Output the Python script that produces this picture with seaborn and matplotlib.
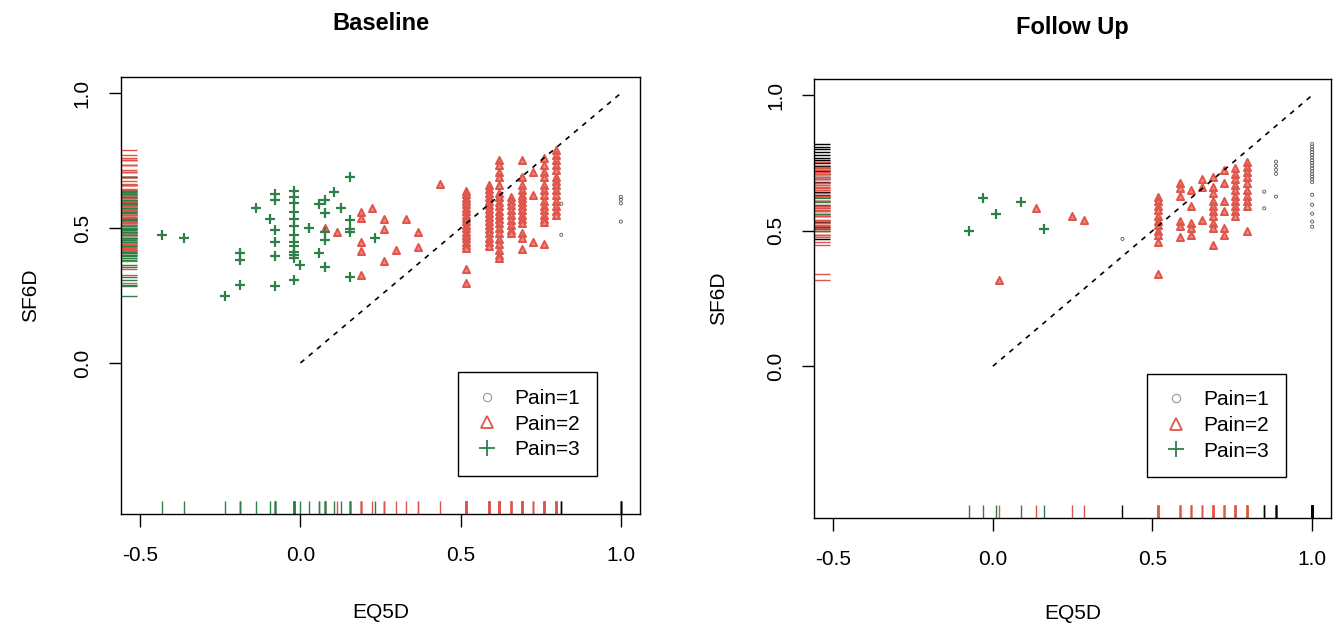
import numpy as np
import pandas as pd
import matplotlib
matplotlib.use("Agg")
import matplotlib.pyplot as plt
from matplotlib.lines import Line2D
import seaborn as sns

# -----------------------------
# Data
# -----------------------------
# Baseline, Pain=1
base_p1_x = [0.516, 0.691, 0.814, 0.814, 1.0, 1.0, 1.0, 1.0]
base_p1_y = [0.51, 0.69, 0.59, 0.475, 0.616, 0.605, 0.592, 0.524]

# Baseline, Pain=2 (single points)
base_p2_x = [0.078, 0.115, 0.188, 0.188, 0.188, 0.188, 0.188, 0.224, 0.26, 0.26, 0.26,
             0.297, 0.33, 0.368, 0.368, 0.434]
base_p2_y = [0.499, 0.487, 0.561, 0.536, 0.45, 0.416, 0.325, 0.576, 0.534, 0.497, 0.379,
             0.42, 0.534, 0.485, 0.428, 0.662]
# Baseline, Pain=2 (columns of points sharing one EQ5D value)
base_p2_col_x = [0.516, 0.587, 0.620, 0.656, 0.691, 0.725, 0.760, 0.796]
base_p2_col_y = [
    [0.637, 0.625, 0.612, 0.6, 0.588, 0.575, 0.562, 0.55, 0.537, 0.525, 0.512, 0.5,
     0.487, 0.475, 0.462, 0.45, 0.437, 0.425, 0.349, 0.296],
    [0.659, 0.645, 0.63, 0.615, 0.6, 0.585, 0.57, 0.555, 0.54, 0.525, 0.51, 0.495,
     0.48, 0.465, 0.45, 0.435],
    [0.752, 0.733, 0.708, 0.69, 0.66, 0.63, 0.616, 0.598, 0.583, 0.565, 0.549, 0.534,
     0.52, 0.5, 0.48, 0.46, 0.44, 0.42, 0.40, 0.389],
    [0.616, 0.6, 0.585, 0.567, 0.55, 0.53, 0.512, 0.493, 0.481],
    [0.752, 0.69, 0.66, 0.64, 0.622, 0.61, 0.598, 0.583, 0.567, 0.549, 0.534, 0.52,
     0.481, 0.462, 0.424],
    [0.708, 0.622, 0.45],
    [0.76, 0.733, 0.708, 0.69, 0.66, 0.64, 0.622, 0.6, 0.583, 0.567, 0.549, 0.534,
     0.524, 0.44],
    [0.789, 0.77, 0.752, 0.733, 0.715, 0.69, 0.675, 0.66, 0.64, 0.622, 0.6, 0.583,
     0.565, 0.549],
]

# Baseline, Pain=3
base_p3_x = [-0.432, -0.365, -0.236, -0.19, -0.19, -0.19, -0.14, -0.094, -0.078, -0.078,
             -0.078, -0.078, -0.078, -0.078, 0.0, 0.026, 0.057, 0.057, 0.078, 0.078,
             0.078, 0.078, 0.078, 0.104, 0.125, 0.156, 0.156, 0.156, 0.156, 0.156, 0.234]
base_p3_y = [0.475, 0.462, 0.25, 0.407, 0.38, 0.288, 0.576, 0.534, 0.628, 0.604,
             0.493, 0.45, 0.398, 0.284, 0.364, 0.502, 0.588, 0.407, 0.604, 0.555,
             0.487, 0.456, 0.354, 0.632, 0.576, 0.69, 0.53, 0.495, 0.485, 0.318, 0.465]
base_p3_col_x = [-0.02]
base_p3_col_y = [[0.637, 0.616, 0.592, 0.561, 0.534, 0.506, 0.475, 0.45, 0.432, 0.413,
                  0.399, 0.389, 0.309]]

# Follow up, Pain=1
fu_p1_x = [0.406, 0.85, 0.85, 0.887, 0.887, 0.887, 0.887, 0.887]
fu_p1_y = [0.47, 0.644, 0.583, 0.755, 0.74, 0.725, 0.71, 0.626]
fu_p1_col_x = [1.0]
fu_p1_col_y = [[0.82, 0.81, 0.80, 0.79, 0.78, 0.77, 0.76, 0.75, 0.74, 0.73, 0.72, 0.71,
                0.70, 0.69, 0.68, 0.633, 0.596, 0.563, 0.534, 0.515]]

# Follow up, Pain=2
fu_p2_x = [0.02, 0.135, 0.248, 0.285]
fu_p2_y = [0.32, 0.585, 0.555, 0.54]
fu_p2_col_x = [0.516, 0.587, 0.620, 0.656, 0.691, 0.725, 0.760, 0.796]
fu_p2_col_y = [
    [0.625, 0.61, 0.59, 0.575, 0.555, 0.535, 0.52, 0.5, 0.485, 0.46, 0.34],
    [0.675, 0.656, 0.63, 0.535, 0.516, 0.477],
    [0.65, 0.593, 0.528, 0.51, 0.485],
    [0.69, 0.66, 0.54],
    [0.70, 0.66, 0.64, 0.611, 0.593, 0.573, 0.554, 0.528, 0.51, 0.447],
    [0.725, 0.675, 0.611, 0.573, 0.51, 0.485],
    [0.73, 0.71, 0.69, 0.67, 0.65, 0.63, 0.611, 0.59, 0.573, 0.554],
    [0.755, 0.735, 0.718, 0.70, 0.675, 0.65, 0.63, 0.611, 0.59, 0.5],
]

# Follow up, Pain=3
fu_p3_x = [-0.074, -0.03, 0.01, 0.088, 0.159]
fu_p3_y = [0.5, 0.62, 0.56, 0.605, 0.505]

ref_line = [0.0, 1.0]
x_ticks = [-0.5, 0.0, 0.5, 1.0]
y_ticks = [0.0, 0.5, 1.0]
pain_labels = ["Pain=1", "Pain=2", "Pain=3"]


def build(x, y, col_x, col_y):
    xs = list(x)
    ys = list(y)
    for cx, cy in zip(col_x, col_y):
        xs += [cx] * len(cy)
        ys += cy
    return pd.DataFrame({"EQ5D": xs, "SF6D": ys})


base = {1: build(base_p1_x, base_p1_y, [], []),
        2: build(base_p2_x, base_p2_y, base_p2_col_x, base_p2_col_y),
        3: build(base_p3_x, base_p3_y, base_p3_col_x, base_p3_col_y)}
follow = {1: build(fu_p1_x, fu_p1_y, fu_p1_col_x, fu_p1_col_y),
          2: build(fu_p2_x, fu_p2_y, fu_p2_col_x, fu_p2_col_y),
          3: build(fu_p3_x, fu_p3_y, [], [])}

# -----------------------------
# Style
# -----------------------------
sns.set_style("ticks")
plt.rcParams["font.family"] = ["Liberation Sans", "DejaVu Sans"]
plt.rcParams["axes.unicode_minus"] = False
plt.rcParams["text.color"] = "black"
plt.rcParams["axes.labelcolor"] = "black"

RED = "#E0554B"
GREEN = "#2F7F48"
BLACK = "#555555"
colors = {1: BLACK, 2: RED, 3: GREEN}

fig = plt.figure(figsize=(13.33, 6.26), dpi=100)
ax1 = fig.add_axes([0.0908, 0.1789, 0.3894, 0.6981])
ax2 = fig.add_axes([0.6107, 0.1725, 0.3880, 0.7013])


def draw_panel(ax, groups, title, title_y, xlab_y, ylab_x, leg_anchor):
    # rugs
    for p in [1, 2, 3]:
        rc = "black" if p == 1 else colors[p]
        sns.rugplot(x=groups[p]["EQ5D"], height=0.03, color=rc, lw=1, ax=ax)
        sns.rugplot(y=groups[p]["SF6D"], height=0.03, color=rc, lw=1, ax=ax)

    # points
    sns.scatterplot(data=groups[1], x="EQ5D", y="SF6D", marker="o", s=5,
                    facecolors="none", edgecolor=BLACK, linewidth=0.6, ax=ax)
    sns.scatterplot(data=groups[2], x="EQ5D", y="SF6D", marker="^", s=26,
                    facecolor="#EC8A80", edgecolor=RED, linewidth=1.4, ax=ax)
    sns.scatterplot(data=groups[3], x="EQ5D", y="SF6D", marker="+", s=48,
                    color=GREEN, linewidth=1.6, ax=ax)

    ax.plot(ref_line, ref_line, color="black", lw=1.2, ls=(0, (3, 3.5)))

    ax.set_xlim(-0.56, 1.06)
    ax.set_ylim(-0.56, 1.06)
    ax.set_xticks(x_ticks)
    ax.set_xticklabels([f"{v:.1f}" for v in x_ticks])
    ax.set_yticks(y_ticks)
    ax.set_yticklabels([f"{v:.1f}" for v in y_ticks], rotation=90, va="center")
    ax.tick_params(axis="both", direction="out", length=9, width=1,
                   labelsize=15, colors="black")
    ax.tick_params(axis="x", pad=14)
    ax.tick_params(axis="y", pad=12)
    for s in ax.spines.values():
        s.set_visible(True)
        s.set_color("black")
        s.set_linewidth(1)

    ax.set_xlabel("EQ5D", fontsize=15)
    ax.set_ylabel("SF6D", fontsize=15)
    ax.xaxis.set_label_coords(0.5, xlab_y)
    ax.yaxis.set_label_coords(ylab_x, 0.5)
    ax.set_title(title, fontsize=17, fontweight="bold", y=title_y, pad=0)

    handles = [
        Line2D([], [], ls="none", marker="o", markersize=6, markerfacecolor="none",
               markeredgecolor="#999999", markeredgewidth=0.8),
        Line2D([], [], ls="none", marker="^", markersize=8, markerfacecolor="none",
               markeredgecolor=RED, markeredgewidth=1.3),
        Line2D([], [], ls="none", marker="+", markersize=11, markeredgecolor=GREEN,
               markeredgewidth=1.3),
    ]
    leg = ax.legend(handles, pain_labels, loc="lower left", bbox_to_anchor=leg_anchor,
                    borderaxespad=0, fontsize=15, frameon=True, fancybox=False,
                    edgecolor="black", framealpha=1, labelspacing=0.32,
                    handlelength=1.2, handletextpad=0.7, borderpad=0.8)
    leg.get_frame().set_linewidth(1)


draw_panel(ax1, base, "Baseline", 1.108, -0.204, -0.156, (0.649, 0.087))
draw_panel(ax2, follow, "Follow Up", 1.102, -0.196, -0.166, (0.644, 0.093))

fig.savefig("out.png", dpi=100)
